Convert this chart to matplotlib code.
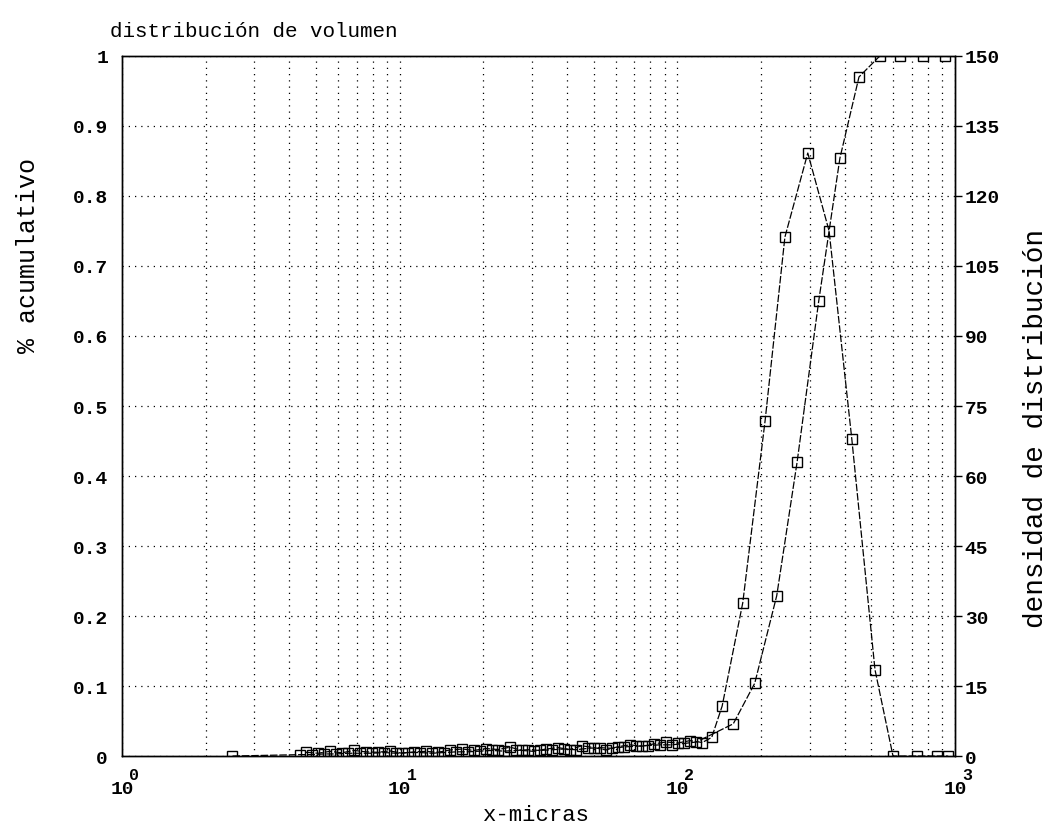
import matplotlib.pyplot as plt
import numpy as np
from matplotlib.ticker import LogLocator, NullFormatter, FixedLocator

plt.rcParams['font.family'] = ['Liberation Mono', 'DejaVu Sans Mono']

# cumulative fraction (left axis)
cum_x = [2.5,
         4.38, 4.83, 5.34, 5.90, 6.51, 7.20, 7.95, 8.78, 9.70,
         10.7, 11.8, 13.1, 14.4, 16.0, 17.6, 19.5, 21.5, 23.8, 26.2,
         29.0, 32.0, 35.4, 39.1, 43.1, 47.7, 52.7, 58.2, 64.2, 71.0,
         78.4, 86.6, 95.6, 106, 117,
         159, 190, 228, 270, 323, 385, 451, 536, 633, 766, 920]
cum_y = [0,
         0.002, 0.002, 0.003, 0.003, 0.004, 0.004, 0.004, 0.005, 0.004, 0.005,
         0.005, 0.004, 0.005, 0.006, 0.006, 0.007, 0.008, 0.007, 0.008, 0.009,
         0.008, 0.009, 0.010, 0.009, 0.011, 0.012, 0.011, 0.013, 0.014, 0.015,
         0.016, 0.016, 0.018, 0.020,
         0.046, 0.104, 0.229, 0.42, 0.65, 0.854, 0.97, 1.0, 1.0, 1.0, 1.0]

# distribution density (right axis)
dens_x = [4.6, 5.08, 5.61, 6.2, 6.84, 7.56, 8.35, 9.22, 10.2, 11.3,
          12.4, 13.7, 15.2, 16.8, 18.5, 20.4, 22.6, 25.0, 27.6, 30.4,
          33.6, 37.2, 41.0, 45.3, 50.1, 55.3, 61.1, 67.5, 74.5, 82.3,
          91.0, 100.5, 111, 123,
          133, 145, 172, 207, 244, 295, 352, 425, 515, 598, 730, 860, 942]
dens_y = [0.8, 0.6, 1.0, 0.7, 1.2, 0.9, 0.8, 1.1, 0.6, 0.9,
          1.0, 0.8, 1.3, 1.5, 1.2, 1.6, 1.4, 1.9, 1.2, 1.0,
          1.5, 1.8, 1.4, 2.2, 1.8, 1.3, 2.0, 2.4, 2.1, 2.6,
          3.0, 2.8, 3.3, 2.9,
          4.0, 10.7, 32.8, 71.8, 111.2, 129.2, 112.5, 67.9, 18.5, 0, 0, 0, 0]

left_ticks = np.round(np.arange(0, 1.01, 0.1), 1)
left_labels = ['0'] + ['%.1f' % v for v in left_ticks[1:-1]] + ['1']
right_ticks = np.arange(0, 151, 15)
x_exps = [0, 1, 2, 3]

fig = plt.figure(figsize=(10.59, 8.28), dpi=100)
ax = fig.add_axes([0.1152, 0.0857, 0.7866, 0.8455])
ax2 = ax.twinx()

ax.set_xscale('log')
ax.set_xlim(1, 1000)
ax.set_ylim(0, 1)
ax2.set_ylim(0, 150)

grid_kw = dict(color='black', linestyle=(0, (1, 4)), linewidth=0.9)
ax.xaxis.set_major_locator(FixedLocator([10.0 ** e for e in x_exps]))
ax.xaxis.set_minor_locator(LogLocator(base=10, subs=np.arange(2, 10)))
ax.xaxis.set_minor_formatter(NullFormatter())
ax.grid(True, which='both', axis='x', **grid_kw)
ax.set_yticks(left_ticks)
ax.set_yticklabels(left_labels)
ax.grid(True, which='major', axis='y', **grid_kw)
ax2.set_yticks(right_ticks)

line_kw = dict(color='black', linewidth=0.9, linestyle=(0, (6, 1.5)),
               marker='s', markersize=6.5, markerfacecolor='none',
               markeredgecolor='black', markeredgewidth=1.0)
ax.plot(cum_x, cum_y, **line_kw)
ax2.plot(dens_x, dens_y, **line_kw)

# "10" under each decade, exponent raised to its right
ax.set_xticklabels(['10'] * len(x_exps))
for e in x_exps:
    ax.annotate(str(e), xy=(10.0 ** e, 0), xycoords=('data', 'axes fraction'),
                xytext=(5, -8), textcoords='offset points',
                ha='left', va='top', fontsize=12, fontweight='bold')

ax.tick_params(axis='x', which='both', length=0, pad=17, labelsize=14)
ax.tick_params(axis='y', length=0, pad=10, labelsize=14)
ax2.tick_params(axis='y', length=5, width=1, pad=2, labelsize=14)
for lab in ax.get_xticklabels() + ax.get_yticklabels() + ax2.get_yticklabels():
    lab.set_fontweight('bold')

for a in (ax, ax2):
    for s in a.spines.values():
        s.set_linewidth(1.0)

ax.set_xlabel('x-micras', fontsize=16)
ax.xaxis.set_label_coords(0.497, -0.068)
ax.set_ylabel('% acumulativo', fontsize=18)
ax.yaxis.set_label_coords(-0.098, 0.717)
ax2.set_ylabel('densidad de distribución', fontsize=20, rotation=90)
ax2.yaxis.set_label_coords(1.082, 0.47)
fig.text(0.104, 0.962, 'distribución de volumen', fontsize=15, ha='left', va='center')

fig.savefig('out.png', dpi=100)
